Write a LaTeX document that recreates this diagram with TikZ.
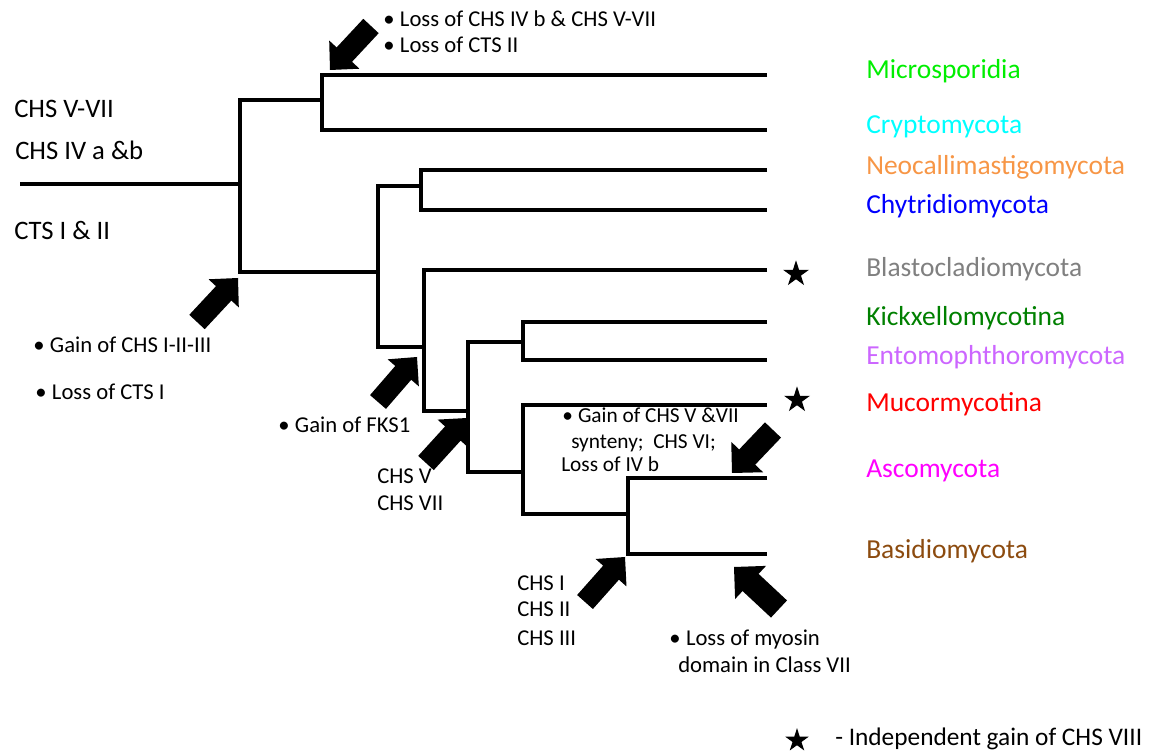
\documentclass[tikz,border=0pt]{standalone}
\usepackage{fontspec}
\setmainfont{Carlito}
\usetikzlibrary{calc,shapes.geometric}
\definecolor{cMic}{RGB}{0,238,0}
\definecolor{cCry}{RGB}{0,255,255}
\definecolor{cNeo}{RGB}{247,150,70}
\definecolor{cChy}{RGB}{0,0,255}
\definecolor{cBla}{RGB}{128,128,128}
\definecolor{cKic}{RGB}{0,128,0}
\definecolor{cEnt}{RGB}{204,102,255}
\definecolor{cMuc}{RGB}{255,0,0}
\definecolor{cAsc}{RGB}{255,0,255}
\definecolor{cBas}{RGB}{140,75,15}
\newcommand\bul{•\hspace{0.24em}}
% tail, tip, head length, head half width, shaft half width
\newcommand\fatarrow[5]{%
  \coordinate (fa-h) at ($(#2)!#3!(#1)$);
  \fill (#2) -- ($(fa-h)!#4!90:(#2)$) -- ($(fa-h)!#5!90:(#2)$) -- ($(#1)!#5!90:(#2)$)
    -- ($(#1)!#5!-90:(#2)$) -- ($(fa-h)!#5!-90:(#2)$) -- ($(fa-h)!#4!-90:(#2)$) -- cycle;
}
\begin{document}
\begin{tikzpicture}[x=0.75pt,y=-0.75pt,
  branch/.style={line width=2.3pt},
  taxon/.style={anchor=base west, inner sep=0pt, font=\fontsize{20.6}{25}\selectfont},
  bigtext/.style={anchor=base west, inner sep=0pt, font=\fontsize{20}{24}\selectfont},
  note/.style={anchor=base west, inner sep=0pt, font=\fontsize{17}{20}\selectfont},
  smallnote/.style={anchor=base west, inner sep=0pt, font=\fontsize{16}{19}\selectfont},
  legendtext/.style={anchor=base west, inner sep=0pt, font=\fontsize{19}{23}\selectfont},
  gainstar/.style={star, star points=5, star point ratio=2.618, fill=black, draw=none, inner sep=0pt, minimum size=20.5pt}]
\useasboundingbox (0,0) rectangle (1172,755);

% ---- branch tips
\coordinate (tMic) at (767,75);
\coordinate (tCry) at (767,130);
\coordinate (tNeo) at (767,170);
\coordinate (tChy) at (767,210);
\coordinate (tBla) at (767,270);
\coordinate (tKic) at (767,322);
\coordinate (tEnt) at (767,360);
\coordinate (tMuc) at (767,405);
\coordinate (tAsc) at (767,478);
\coordinate (tBas) at (767,554);
% ---- internal nodes
\coordinate (root) at (20,184);
\coordinate (nR) at (240,184);
\coordinate (nA) at (322,100);
\coordinate (nB) at (378,272);
\coordinate (nC) at (421,186);
\coordinate (nD) at (424,347);
\coordinate (nE) at (468,411);
\coordinate (nF) at (523,342);
\coordinate (nG) at (523,472);
\coordinate (nH) at (628,514);

\draw[branch] (root) -- (nR);
\draw[branch] (nA) -| (nR) |- (nB);
\draw[branch] (tMic) -| (nA) |- (tCry);
\draw[branch] (nC) -| (nB) |- (nD);
\draw[branch] (tNeo) -| (nC) |- (tChy);
\draw[branch] (tBla) -| (nD) |- (nE);
\draw[branch] (nF) -| (nE) |- (nG);
\draw[branch] (tKic) -| (nF) |- (tEnt);
\draw[branch] (tMuc) -| (nG) |- (nH);
\draw[branch] (tAsc) -| (nH) |- (tBas);

% ---- taxa
\node[taxon, text=cMic] (Mic) at (866,78.6) {Microsporidia};
\node[taxon, text=cCry] (Cry) at (866,133.7) {Cryptomycota};
\node[taxon, text=cNeo] (Neo) at (866,175) {Neocallimastigomycota};
\node[taxon, text=cChy] (Chy) at (866,213.9) {Chytridiomycota};
\node[taxon, text=cBla] (Bla) at (866,276.2) {Blastocladiomycota};
\node[taxon, text=cKic] (Kic) at (866,325.8) {Kickxellomycotina};
\node[taxon, text=cEnt] (Ent) at (866,365) {Entomophthoromycota};
\node[taxon, text=cMuc] (Muc) at (866,411.2) {Mucormycotina};
\node[taxon, text=cAsc] (Asc) at (866,477.3) {Ascomycota};
\node[taxon, text=cBas] (Bas) at (866,559) {Basidiomycota};

% ---- stars
\node[gainstar] (s1) at (796,274) {};
\node[gainstar] (s2) at (797,400) {};
\node[gainstar, minimum size=18.5pt] (s3) at (797,740.5) {};
\node[legendtext] (leg) at (835,745.3) {- Independent gain of CHS VIII};

% ---- root labels
\node[bigtext] (l1) at (14,117.3) {CHS V-VII};
\node[bigtext] (l2) at (15,160) {CHS IV a \&b};
\node[bigtext] (l3) at (14,240) {CTS I \& II};

% ---- annotations
\node[note] (n1a) at (383,26.7) {\bul Loss of CHS IV b \& CHS V-VII};
\node[note] (n1b) at (383,52.7) {\bul Loss of CTS II};
\node[note] (n2a) at (33,352.7) {\bul Gain of CHS I-II-III};
\node[note] (n2b) at (35,399.3) {\bul Loss of CTS I};
\node[note] (n3) at (278,432.7) {\bul Gain of FKS1};
\node[note] (n4a) at (377,484) {CHS V};
\node[note] (n4b) at (377,510.7) {CHS VII};
\node[smallnote] (n5a) at (562,422.7) {\bul Gain of CHS V \&VII};
\node[smallnote] (n5b) at (571,448.3) {synteny;\ \ CHS VI;};
\node[smallnote] (n5c) at (561,471.7) {Loss of IV b};
\node[note] (n6a) at (517,590) {CHS I};
\node[note] (n6b) at (517,616.7) {CHS II};
\node[note] (n6c) at (517,645.7) {CHS III};
\node[note] (n7a) at (669,645.3) {\bul Loss of myosin};
\node[note] (n7b) at (678,672.7) {domain in Class VII};

% ---- block arrows
\coordinate (a1s) at (371,26);   \coordinate (a1t) at (330,70);
\coordinate (a2s) at (197,322);  \coordinate (a2t) at (238,278);
\coordinate (a3s) at (378,402);  \coordinate (a3t) at (417,357);
\coordinate (a4s) at (426,463);  \coordinate (a4t) at (467,418);
\coordinate (a5s) at (773,430);  \coordinate (a5t) at (732,473);
\coordinate (a6s) at (585,602);  \coordinate (a6t) at (625,557);
\coordinate (a7s) at (779,609);  \coordinate (a7t) at (734,567);
\fatarrow{a1s}{a1t}{15.75pt}{15.5pt}{7.9pt}
\fatarrow{a2s}{a2t}{15.75pt}{15.5pt}{7.9pt}
\fatarrow{a3s}{a3t}{15.75pt}{15.5pt}{7.9pt}
\fatarrow{a4s}{a4t}{15.75pt}{15.5pt}{7.9pt}
\fatarrow{a5s}{a5t}{16.5pt}{16.5pt}{8.3pt}
\fatarrow{a6s}{a6t}{15.75pt}{15.5pt}{7.9pt}
\fatarrow{a7s}{a7t}{17pt}{17pt}{8.8pt}
\end{tikzpicture}
\end{document}
